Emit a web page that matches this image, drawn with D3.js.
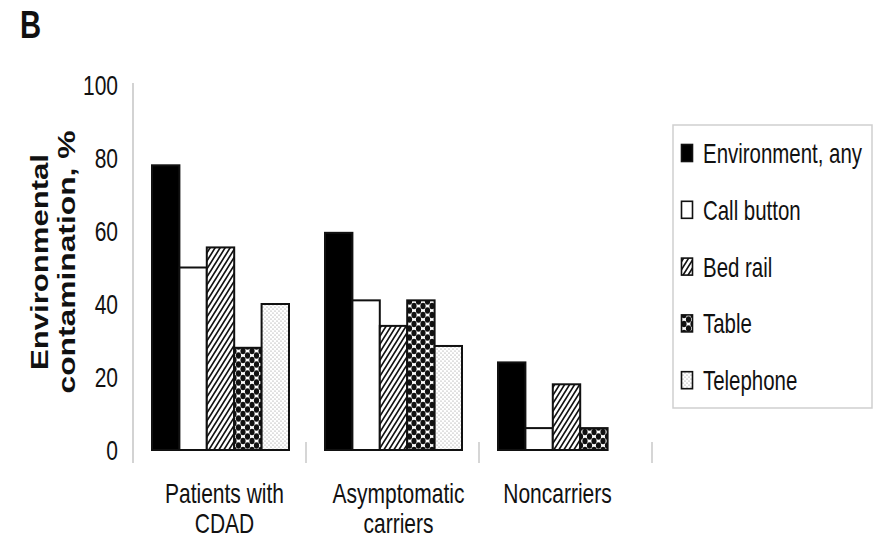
<!DOCTYPE html>
<html>
<head>
<meta charset="utf-8">
<script src="https://cdn.jsdelivr.net/npm/d3@7/dist/d3.min.js"></script>
<style>
  html, body { margin: 0; padding: 0; background: #fff; }
  svg { display: block; font-family: "Liberation Sans", Arial, sans-serif; }
</style>
</head>
<body>
<svg id="chart" width="874" height="547"></svg>
<script>
// Share of sampled rooms with environmental contamination, by patient group
const categories = [["Patients with", "CDAD"], ["Asymptomatic", "carriers"], ["Noncarriers"]];
const categoryKeys = ["cdad", "carriers", "noncarriers"];
const seriesNames = ["Environment, any", "Call button", "Bed rail", "Table", "Telephone"];
const environmentAny = [78, 59.5, 24];
const callButton = [50, 41, 6];
const bedRail = [55.5, 34, 18];
const tableSurface = [28, 41, 6];
const telephone = [40, 28.5, 0];
const yTicks = [0, 20, 40, 60, 80, 100];

const seriesValues = [environmentAny, callButton, bedRail, tableSurface, telephone];
const fills = ["#000", "#fff", "url(#hatch)", "url(#dots)", "url(#speckle)"];

const svg = d3.select("#chart");
const ink = "#111";

// Fill patterns for the bars
const defs = svg.append("defs");
const hatch = defs.append("pattern").attr("id", "hatch")
  .attr("patternUnits", "userSpaceOnUse").attr("width", 5).attr("height", 8);
hatch.append("rect").attr("width", 5).attr("height", 8).attr("fill", "#fff");
hatch.append("path").attr("d", "M-1.25,2 L1.25,-2 M0,8 L5,0 M3.75,10 L6.25,6")
  .attr("stroke", ink).attr("stroke-width", 1.7);

const dots = defs.append("pattern").attr("id", "dots")
  .attr("patternUnits", "userSpaceOnUse").attr("width", 9).attr("height", 9);
dots.append("rect").attr("width", 9).attr("height", 9).attr("fill", "#fff");
[[4.5, 4.5], [0, 0], [9, 0], [0, 9], [9, 9]].forEach(([cx, cy]) =>
  dots.append("ellipse").attr("cx", cx).attr("cy", cy).attr("rx", 2.6).attr("ry", 3.3).attr("fill", ink));

const speckle = defs.append("pattern").attr("id", "speckle")
  .attr("patternUnits", "userSpaceOnUse").attr("width", 4).attr("height", 4);
speckle.append("rect").attr("width", 4).attr("height", 4).attr("fill", "#fff");
[[1, 1], [3, 3]].forEach(([cx, cy]) =>
  speckle.append("circle").attr("cx", cx).attr("cy", cy).attr("r", 0.6).attr("fill", "#888"));

// Scales
const x = d3.scaleBand().domain(categoryKeys).range([133, 652]).padding(0);
const inner = d3.scaleBand().domain(seriesNames).range([19, 156]).padding(0);
const y = d3.scaleLinear().domain([0, 100]).range([450, 85]);

// Horizontally condensed text helper
const SX = 0.75;
function label(parent, str, px, py, anchor, size, weight, sx) {
  return parent.append("text")
    .attr("transform", `translate(${px},${py}) scale(${sx || SX},1)`)
    .attr("text-anchor", anchor)
    .attr("font-size", size)
    .attr("font-weight", weight || "normal")
    .attr("fill", ink)
    .text(str);
}

// Panel letter
label(svg, "B", 20, 38, "start", 39, "bold");

// Y axis: light rule and tick labels
svg.append("line")
  .attr("x1", 133).attr("x2", 133)
  .attr("y1", y(100) - 2).attr("y2", y(0) + 13)
  .attr("stroke", "#c4c4c4").attr("stroke-width", 1.5);
yTicks.forEach(t => label(svg, String(t), 118, y(t) + 10, "end", 28));

// Faint tick marks between categories
categoryKeys.forEach(k => {
  const xe = x(k) + x.bandwidth();
  svg.append("line")
    .attr("x1", xe).attr("x2", xe)
    .attr("y1", y(0) - 8).attr("y2", y(0) + 13)
    .attr("stroke", "#c8c8c8").attr("stroke-width", 1.5);
});

// Y axis title
[["Environmental", 48, 216], ["contamination, %", 75, 263]].forEach(([t, px, len]) => {
  svg.append("text")
    .attr("transform", `translate(${px},262) rotate(-90)`)
    .attr("text-anchor", "middle")
    .attr("font-size", 24)
    .attr("font-weight", "bold")
    .attr("fill", ink)
    .attr("textLength", len)
    .attr("lengthAdjust", "spacingAndGlyphs")
    .text(t);
});

// Bars
const rows = [];
categoryKeys.forEach((k, ci) => {
  seriesNames.forEach((s, si) => {
    rows.push({ k, s, si, v: seriesValues[si][ci] });
  });
});
svg.append("g").selectAll("rect")
  .data(rows.filter(d => d.v > 0))
  .join("rect")
  .attr("x", d => x(d.k) + inner(d.s))
  .attr("y", d => y(d.v))
  .attr("width", inner.bandwidth())
  .attr("height", d => y(0) - y(d.v))
  .attr("fill", d => fills[d.si])
  .attr("stroke", ink)
  .attr("stroke-width", 2);

// Category labels (small horizontal nudges per group)
const labelNudge = [5, 6, -8];
categoryKeys.forEach((k, ci) => {
  const cx = x(k) + x.bandwidth() / 2 + labelNudge[ci];
  categories[ci].forEach((line, li) => label(svg, line, cx, 503 + li * 30, "middle", 28));
});

// Legend
const lg = svg.append("g");
lg.append("rect")
  .attr("x", 673).attr("y", 125).attr("width", 199).attr("height", 283)
  .attr("fill", "none").attr("stroke", "#cfcfcf").attr("stroke-width", 1.5);
seriesNames.forEach((s, i) => {
  const cy = 153 + i * 56.8;
  lg.append("rect")
    .attr("x", 681.5).attr("y", cy - 8.5).attr("width", 11).attr("height", 17)
    .attr("fill", fills[i]).attr("stroke", ink).attr("stroke-width", 1.6);
  label(lg, s, 703, cy + 10, "start", 28, "normal", 0.73);
});
</script>
</body>
</html>
